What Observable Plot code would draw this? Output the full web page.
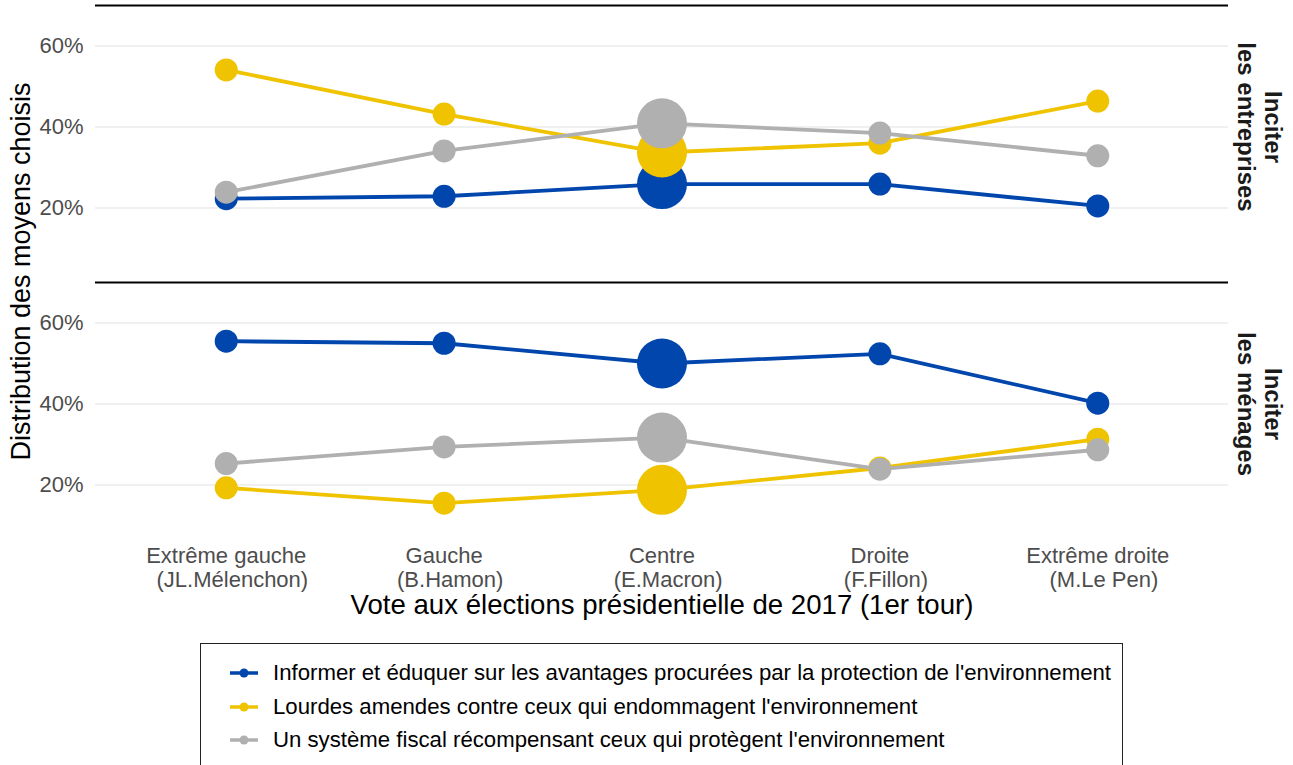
<!DOCTYPE html>
<html>
<head>
<meta charset="utf-8">
<script src="https://cdn.jsdelivr.net/npm/d3@7"></script>
<script src="https://cdn.jsdelivr.net/npm/@observablehq/plot@0.6"></script>
<style>
  html, body { margin: 0; padding: 0; background: #fff; }
  body { font-family: "Liberation Sans", Arial, sans-serif; }
  #wrap { position: relative; width: 1293px; height: 765px; overflow: hidden; }
  #legend { position: absolute; left: 200px; top: 643px; width: 921px; height: 150px;
            border: 1.5px solid #222; box-sizing: content-box; }
  .row { position: absolute; left: 28px; height: 30px; display: flex; align-items: center;
         font-size: 22.2px; color: #000; white-space: nowrap; }
  .row svg { margin-right: 14px; }
</style>
</head>
<body>
<div id="wrap"><div id="chart"></div><div id="legend"></div></div>
<script>
// ---- data ----
const categories = ["Extrême gauche", "Gauche", "Centre", "Droite", "Extrême droite"];
const tickLabels = [
  "Extrême gauche\n\u00a0\u00a0(JL.Mélenchon)",
  "Gauche\n\u00a0\u00a0(B.Hamon)",
  "Centre\n\u00a0\u00a0(E.Macron)",
  "Droite\n\u00a0\u00a0(F.Fillon)",
  "Extrême droite\n\u00a0\u00a0(M.Le Pen)"
];
const panelKeys = ["entreprises", "ménages"];
const panelLabels = ["Inciter\nles entreprises", "Inciter\nles ménages"];
const seriesNames = [
  "Informer et éduquer sur les avantages procurées par la protection de l'environnement",
  "Lourdes amendes contre ceux qui endommagent l'environnement",
  "Un système fiscal récompensant ceux qui protègent l'environnement"
];
const seriesColors = ["#0046ad", "#f0c300", "#b0b0b0"];

// values in % (per category), panel "Inciter les entreprises"
const entreprisesInformer = [22.3, 22.9, 25.9, 25.9, 20.5];
const entreprisesAmendes  = [54.1, 43.2, 33.7, 36.0, 46.4];
const entreprisesFiscal   = [23.9, 34.1, 40.9, 38.5, 32.9];
// panel "Inciter les ménages"
const menagesInformer = [55.5, 55.0, 50.0, 52.4, 40.2];
const menagesAmendes  = [19.3, 15.5, 18.8, 24.2, 31.3];
const menagesFiscal   = [25.3, 29.4, 31.7, 23.9, 28.7];

const yTicks = [20, 40, 60];
const yTitle = "Distribution des moyens choisis";
const xTitle = "Vote aux élections présidentielle de 2017 (1er tour)";
const bigCategory = "Centre";

// ---- table ----
const valueSets = {
  "entreprises": [entreprisesInformer, entreprisesAmendes, entreprisesFiscal],
  "ménages": [menagesInformer, menagesAmendes, menagesFiscal]
};
const rows = [];
for (const p of panelKeys) {
  valueSets[p].forEach((vals, si) => {
    vals.forEach((v, ci) => rows.push({panel: p, series: seriesNames[si], cat: categories[ci], value: v}));
  });
}

const chart = Plot.plot({
  width: 1293,
  height: 635,
  marginLeft: 95,
  marginRight: 65,
  marginTop: 5,
  marginBottom: 110,
  style: {fontFamily: "'Liberation Sans', Arial, sans-serif", background: "white", overflow: "visible"},
  x: {type: "point", domain: categories, padding: 0.6, round: false},
  y: {domain: [10, 70]},
  fy: {domain: panelKeys, paddingInner: 0.1227, paddingOuter: 0, round: false, axis: null, label: null},
  color: {domain: seriesNames, range: seriesColors},
  marks: [
    Plot.gridY({ticks: yTicks, stroke: "#ebebeb", strokeOpacity: 1, strokeWidth: 1.6}),
    Plot.ruleY([70], {stroke: "#000", strokeWidth: 2}),
    Plot.axisY({ticks: yTicks, tickSize: 0, tickPadding: 12, tickFormat: d => d + "%",
                fontSize: 22, color: "#4d4d4d", label: null}),
    Plot.axisX({tickSize: 0, tickPadding: 20, fontSize: 22, color: "#4d4d4d", label: null,
                lineHeight: 1.09, facetAnchor: "bottom",
                tickFormat: d => tickLabels[categories.indexOf(d)]}),
    Plot.line(rows, {x: "cat", y: "value", z: "series", stroke: "series", fy: "panel", strokeWidth: 3.8}),
    Plot.dot(rows, {filter: d => d.cat !== bigCategory, x: "cat", y: "value", fill: "series", fy: "panel", r: 11.5}),
    Plot.dot(rows, {filter: d => d.cat === bigCategory, x: "cat", y: "value", fill: "series", fy: "panel", r: 25}),
    Plot.text(panelKeys, {fy: d => d, text: d => panelLabels[panelKeys.indexOf(d)], frameAnchor: "right",
                textAnchor: "middle", lineAnchor: "middle",
                dx: 31.5, rotate: 90, fontSize: 24, fontWeight: "bold", lineHeight: 1.13, fill: "#1a1a1a"}),
    Plot.text([yTitle], {fy: () => panelKeys[0], text: d => d, frameAnchor: "bottom-left",
                textAnchor: "middle", lineAnchor: "middle",
                dx: -74, dy: 23, rotate: -90, fontSize: 27, fill: "#000"}),
    Plot.text([xTitle], {fy: () => panelKeys[1], text: d => d, frameAnchor: "bottom",
                textAnchor: "middle", lineAnchor: "middle",
                dy: 80, fontSize: 27.6, fill: "#000"})
  ]
});
document.getElementById("chart").appendChild(chart);

// ---- legend ----
const legend = document.getElementById("legend");
seriesNames.forEach((name, i) => {
  const row = document.createElement("div");
  row.className = "row";
  row.style.top = (14 + i * 33.5) + "px";
  row.innerHTML = `<svg width="30" height="14"><line x1="1" y1="7" x2="29" y2="7" stroke="${seriesColors[i]}" stroke-width="3.5"/><circle cx="15" cy="7" r="4.5" fill="${seriesColors[i]}"/></svg><span></span>`;
  row.querySelector("span").textContent = name;
  legend.appendChild(row);
});
</script>
</body>
</html>
